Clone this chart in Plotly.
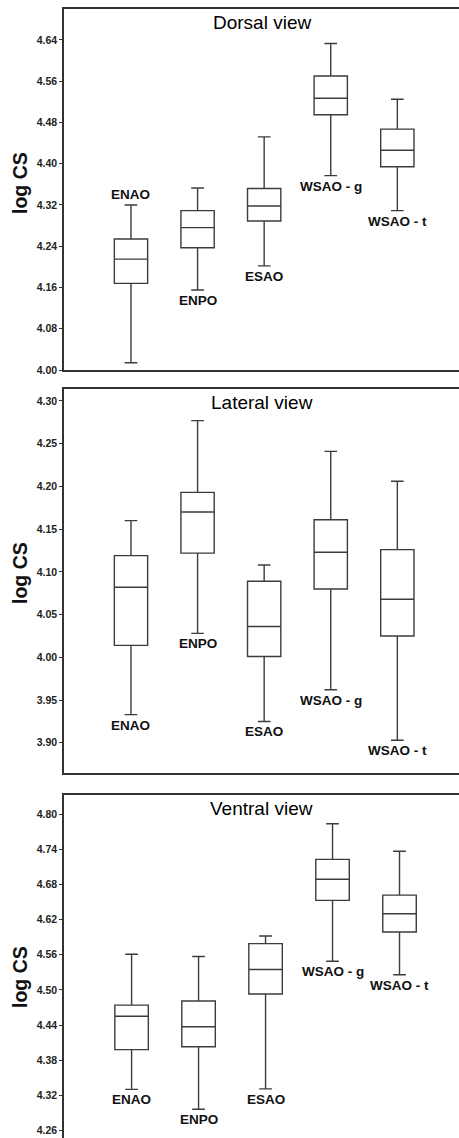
import plotly.graph_objects as go

W, H = 459, 1138

categories = ["ENAO", "ENPO", "ESAO", "WSAO - g", "WSAO - t"]
positions = [0, 1, 2, 3, 4]

# Dorsal view
dorsal_min = [4.014, 4.155, 4.202, 4.377, 4.309]
dorsal_q1 = [4.168, 4.237, 4.289, 4.495, 4.394]
dorsal_med = [4.215, 4.276, 4.318, 4.527, 4.426]
dorsal_q3 = [4.254, 4.309, 4.352, 4.570, 4.467]
dorsal_max = [4.320, 4.353, 4.452, 4.633, 4.525]
dorsal_label_side = ["above", "below", "below", "below", "below"]
dorsal_ticks = [4.00, 4.08, 4.16, 4.24, 4.32, 4.40, 4.48, 4.56, 4.64]

# Lateral view
lateral_min = [3.933, 4.028, 3.925, 3.962, 3.903]
lateral_q1 = [4.014, 4.122, 4.001, 4.080, 4.025]
lateral_med = [4.082, 4.170, 4.036, 4.123, 4.068]
lateral_q3 = [4.119, 4.193, 4.089, 4.161, 4.126]
lateral_max = [4.160, 4.277, 4.108, 4.241, 4.206]
lateral_label_side = ["below", "below", "below", "below", "below"]
lateral_ticks = [3.90, 3.95, 4.00, 4.05, 4.10, 4.15, 4.20, 4.25, 4.30]

# Ventral view
ventral_min = [4.330, 4.296, 4.331, 4.549, 4.526]
ventral_q1 = [4.398, 4.403, 4.493, 4.653, 4.599]
ventral_med = [4.455, 4.437, 4.535, 4.689, 4.630]
ventral_q3 = [4.474, 4.481, 4.579, 4.723, 4.662]
ventral_max = [4.561, 4.557, 4.592, 4.784, 4.737]
ventral_label_side = ["below", "below", "below", "below", "below"]
ventral_ticks = [4.26, 4.32, 4.38, 4.44, 4.50, 4.56, 4.62, 4.68, 4.74, 4.80]

titles = ["Dorsal view", "Lateral view", "Ventral view"]

FONT = "Liberation Sans, Arial, sans-serif"
LINE = "#3c3c3c"

panels = [
    dict(mn=dorsal_min, q1=dorsal_q1, med=dorsal_med, q3=dorsal_q3, mx=dorsal_max,
         side=dorsal_label_side, ticks=dorsal_ticks,
         ydom=[1 - 370 / H, 1 - 9 / H], yr=[4.00, 4.70], xr=[-1.006, 4.926], bottom_line=True),
    dict(mn=lateral_min, q1=lateral_q1, med=lateral_med, q3=lateral_q3, mx=lateral_max,
         side=lateral_label_side, ticks=lateral_ticks,
         ydom=[1 - 772.7 / H, 1 - 389 / H], yr=[3.865, 4.314], xr=[-1.006, 4.926], bottom_line=True),
    dict(mn=ventral_min, q1=ventral_q1, med=ventral_med, q3=ventral_q3, mx=ventral_max,
         side=ventral_label_side, ticks=ventral_ticks,
         ydom=[0, 1 - 795 / H], yr=[4.247, 4.833], xr=[-1.009, 4.888], bottom_line=False),
]

fig = go.Figure()
annotations = []
layout = dict(
    width=W, height=H, margin=dict(l=0, r=0, t=0, b=0),
    paper_bgcolor="white", plot_bgcolor="white",
    showlegend=False, template="none", boxmode="overlay",
    font=dict(family=FONT, color="#222"),
)

ytitle_pos = [1 - 183 / H, 1 - 573 / H, 1 - 977 / H]

for i, p in enumerate(panels):
    n = "" if i == 0 else str(i + 1)
    xa, ya = "x" + n, "y" + n
    fig.add_trace(go.Box(
        x=positions, q1=p["q1"], median=p["med"], q3=p["q3"],
        lowerfence=p["mn"], upperfence=p["mx"],
        xaxis=xa, yaxis=ya, width=0.5, whiskerwidth=0.38,
        fillcolor="white", line=dict(color=LINE, width=1.4),
        boxpoints=False, hoverinfo="skip",
    ))
    layout["xaxis" + n] = dict(
        domain=[64 / W, 1], range=p["xr"], anchor=ya,
        showline=True, mirror=p["bottom_line"], side="bottom" if p["bottom_line"] else "top",
        linecolor="#333", linewidth=1.5, showgrid=False, zeroline=False,
        showticklabels=False, ticks="", automargin=False, fixedrange=True,
    )
    layout["yaxis" + n] = dict(
        domain=p["ydom"], range=p["yr"], anchor=xa,
        showline=True, linecolor="#333", linewidth=1.5,
        showgrid=False, zeroline=False, ticks="outside", ticklen=3,
        tickwidth=1, tickcolor="#333", ticklabeloverflow="allow",
        tickvals=p["ticks"], ticktext=[f"{t:.2f}" for t in p["ticks"]],
        tickfont=dict(family=FONT, size=10.5, color="#222", weight="bold"),
        automargin=False, fixedrange=True,
    )
    # panel title
    annotations.append(dict(
        text=titles[i], xref=xa + " domain", yref=ya + " domain", x=0.5, y=1,
        xanchor="center", yanchor="top", yshift=-1, showarrow=False,
        font=dict(family=FONT, size=19, color="#000"),
    ))
    # group labels
    for c, pos, s, lo, hi in zip(categories, positions, p["side"], p["mn"], p["mx"]):
        if s == "above":
            annotations.append(dict(text=c, x=pos, y=hi, xref=xa, yref=ya,
                                    xanchor="center", yanchor="bottom", yshift=1,
                                    showarrow=False,
                                    font=dict(family=FONT, size=13.5, color="#111", weight="bold")))
        else:
            annotations.append(dict(text=c, x=pos, y=lo, xref=xa, yref=ya,
                                    xanchor="center", yanchor="top", yshift=-1,
                                    showarrow=False,
                                    font=dict(family=FONT, size=13.5, color="#111", weight="bold")))
    # y-axis title
    annotations.append(dict(
        text="log CS", xref="paper", yref="paper", x=20 / W, y=ytitle_pos[i],
        xanchor="center", yanchor="middle", textangle=-90, showarrow=False,
        font=dict(family=FONT, size=19.5, color="#111", weight="bold"),
    ))

layout["annotations"] = annotations
fig.update_layout(**layout)
fig.write_html("out.html")
